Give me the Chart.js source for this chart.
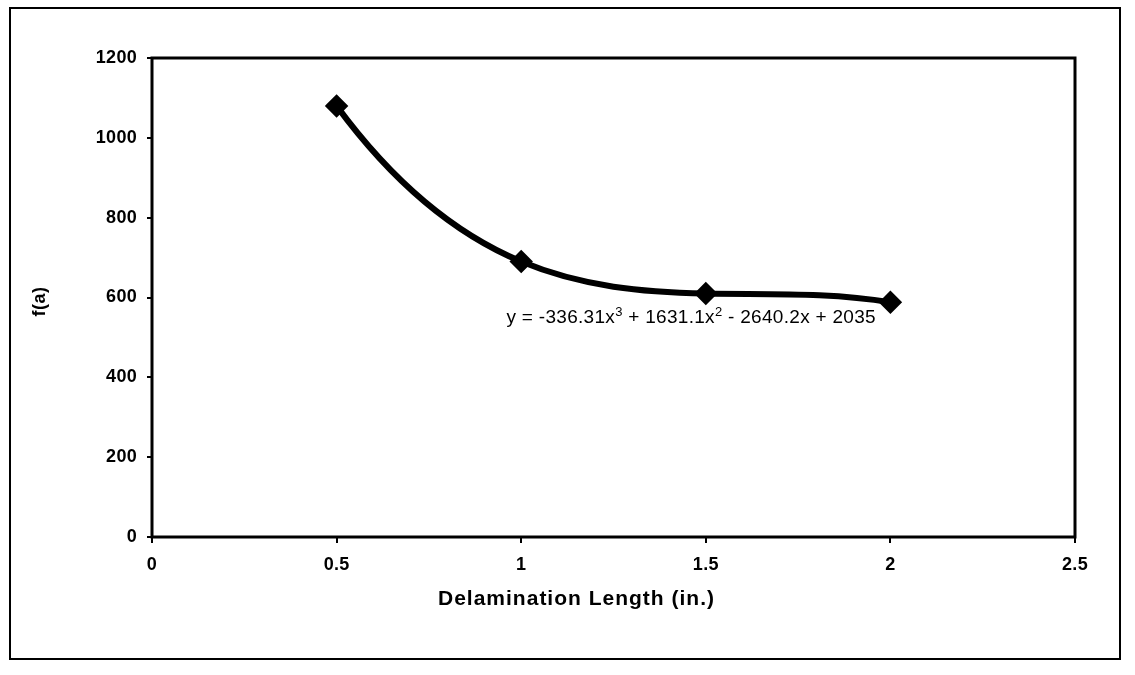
<!DOCTYPE html>
<html>
<head>
<meta charset="utf-8">
<script src="https://cdn.jsdelivr.net/npm/chart.js@4/dist/chart.umd.min.js"></script>
<style>
html,body{margin:0;padding:0;background:#fff;}
#wrap{position:relative;width:1135px;height:675px;}
</style>
</head>
<body>
<div id="wrap"><canvas id="c" width="1135" height="675"></canvas></div>
<script>
const xValues = [0.5, 1, 1.5, 2];
const fValues = [1080, 690, 610, 588];
const xTicks = [0, 0.5, 1, 1.5, 2, 2.5];
const yTicks = [0, 200, 400, 600, 800, 1000, 1200];
const xTitle = 'Delamination Length (in.)';
const yTitle = 'f(a)';
const eqParts = [['y = -336.31x', false], ['3', true], [' + 1631.1x', false], ['2', true], [' - 2640.2x + 2035', false]];
const eqAnchor = {x: 0.96, y: 550};

const FONT = '"Liberation Sans", Arial, sans-serif';

// slope at each node of the polynomial passing through all points (cubic trendline shape)
function nodeSlopes(xs, ys) {
  const n = xs.length, m = [];
  for (let j = 0; j < n; j++) {
    let s = 0;
    for (let k = 0; k < n; k++) if (k !== j) s += 1 / (xs[j] - xs[k]);
    let d = ys[j] * s;
    for (let i = 0; i < n; i++) {
      if (i === j) continue;
      let num = 1, den = 1;
      for (let k = 0; k < n; k++) {
        if (k !== i && k !== j) num *= (xs[j] - xs[k]);
        if (k !== i) den *= (xs[i] - xs[k]);
      }
      d += ys[i] * num / den;
    }
    m.push(d);
  }
  return m;
}

const curvePlugin = {
  id: 'curve',
  beforeDatasetsDraw(chart) {
    const meta = chart.getDatasetMeta(0);
    const line = meta.dataset;
    line.updateControlPoints(chart.chartArea, 'x');
    const sx = chart.scales.x, sy = chart.scales.y;
    const m = nodeSlopes(xValues, fValues);
    const pts = meta.data;
    for (let i = 0; i < pts.length - 1; i++) {
      const h = xValues[i + 1] - xValues[i];
      pts[i].cp2x = sx.getPixelForValue(xValues[i] + h / 3);
      pts[i].cp2y = sy.getPixelForValue(fValues[i] + m[i] * h / 3);
      pts[i + 1].cp1x = sx.getPixelForValue(xValues[i + 1] - h / 3);
      pts[i + 1].cp1y = sy.getPixelForValue(fValues[i + 1] - m[i + 1] * h / 3);
    }
    line._path = undefined;
  }
};

const framePlugin = {
  id: 'frame',
  beforeDraw(chart) {
    chart.ctx.letterSpacing = '0.3px';
  },
  afterDraw(chart) {
    const ctx = chart.ctx, a = chart.chartArea;
    ctx.save();
    ctx.strokeStyle = '#000';
    ctx.lineWidth = 3;
    ctx.strokeRect(a.left, a.top, a.right - a.left, a.bottom - a.top);
    ctx.lineWidth = 2;
    ctx.strokeRect(10, 8, 1110, 651);
    ctx.fillStyle = '#000';
    // axis titles
    ctx.letterSpacing = '1px';
    ctx.font = 'bold 21px ' + FONT;
    ctx.textAlign = 'center';
    ctx.textBaseline = 'middle';
    ctx.fillText(xTitle, (a.left + a.right) / 2 - 37, a.bottom + 62);
    ctx.save();
    ctx.translate(40, (a.top + a.bottom) / 2 + 4);
    ctx.rotate(-Math.PI / 2);
    ctx.letterSpacing = '0.5px';
    ctx.font = 'bold 18px ' + FONT;
    ctx.fillText(yTitle, 0, 0);
    ctx.restore();
    // equation
    const xs = chart.scales.x, ys = chart.scales.y;
    let px = xs.getPixelForValue(eqAnchor.x);
    const py = ys.getPixelForValue(eqAnchor.y);
    ctx.letterSpacing = '0.3px';
    ctx.textBaseline = 'alphabetic';
    ctx.textAlign = 'left';
    for (const [t, sup] of eqParts) {
      ctx.font = (sup ? '13px ' : '19px ') + FONT;
      ctx.fillText(t, px, sup ? py - 1 : py + 6);
      px += ctx.measureText(t).width;
    }
    ctx.restore();
  }
};

new Chart(document.getElementById('c'), {
  type: 'scatter',
  data: {
    datasets: [{
      data: xValues.map((x, i) => ({x, y: fValues[i]})),
      showLine: true,
      borderColor: '#000',
      backgroundColor: '#000',
      borderWidth: 6,
      cubicInterpolationMode: 'monotone',
      pointStyle: 'rectRot',
      pointRadius: 7.5,
      pointHoverRadius: 7.5
    }]
  },
  options: {
    responsive: false,
    animation: false,
    layout: {padding: {left: 0, top: 58, right: 60, bottom: 0}},
    plugins: {legend: {display: false}, tooltip: {enabled: false}},
    scales: {
      x: {
        type: 'linear', min: 0, max: 2.5,
        afterBuildTicks(s) { s.ticks = xTicks.map(v => ({value: v})); },
        afterFit(s) { s.height = 138; },
        grid: {display: true, drawOnChartArea: false, tickLength: 6, color: '#000', lineWidth: 2},
        border: {display: false},
        ticks: {color: '#000', font: {family: FONT, size: 18, weight: 'bold'}, padding: 11, maxRotation: 0,
                callback: v => String(v)},
        title: {display: false}
      },
      y: {
        type: 'linear', min: 0, max: 1200,
        afterBuildTicks(s) { s.ticks = yTicks.map(v => ({value: v})); },
        afterFit(s) { s.width = 152; },
        grid: {display: true, drawOnChartArea: false, tickLength: 5, color: '#000', lineWidth: 2},
        border: {display: false},
        ticks: {color: '#000', font: {family: FONT, size: 18, weight: 'bold'}, padding: 10,
                callback: v => String(v)},
        title: {display: false}
      }
    }
  },
  plugins: [curvePlugin, framePlugin]
});
</script>
</body>
</html>
